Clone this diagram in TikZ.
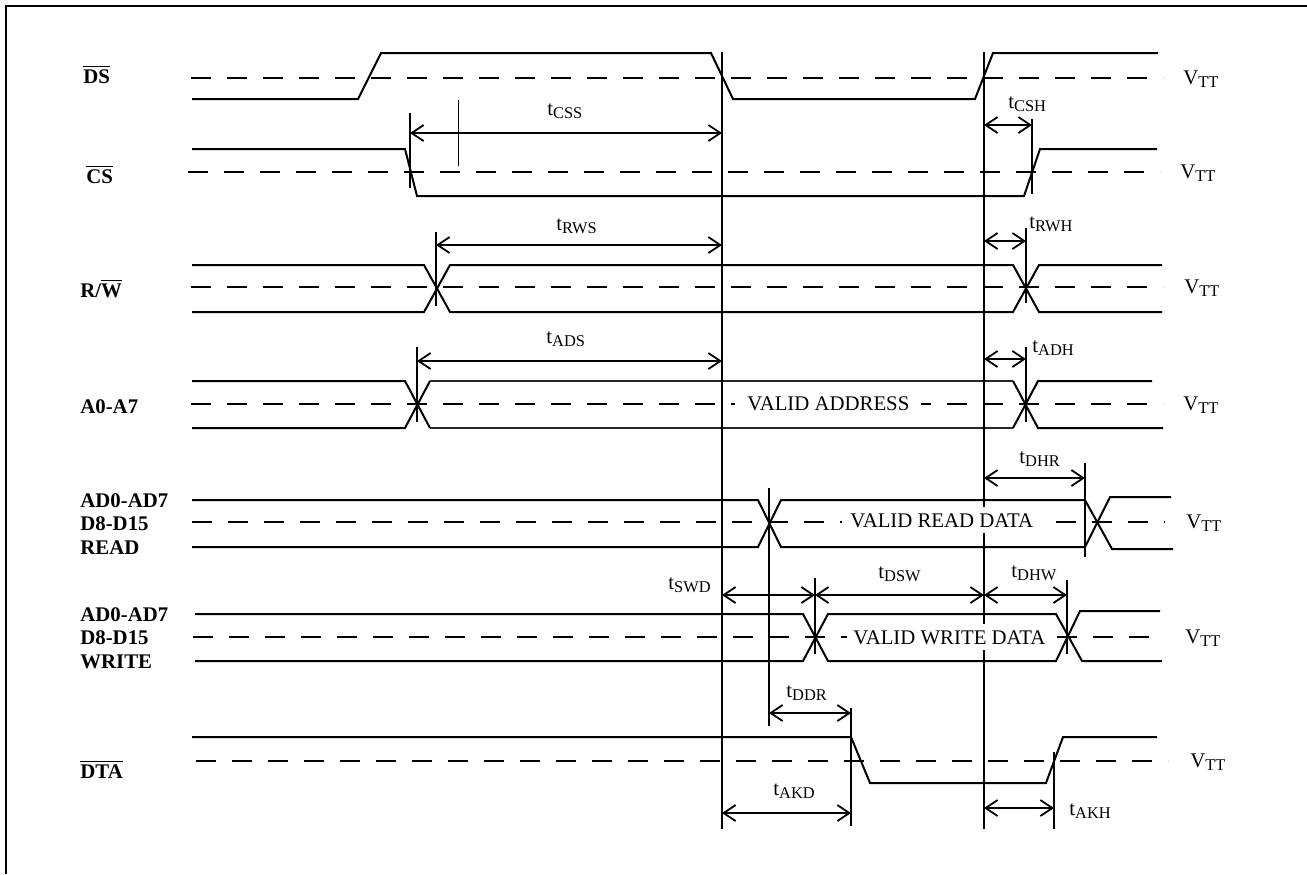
\documentclass[tikz,border=0pt]{standalone}
\usepackage{fontspec}
\setmainfont{Liberation Serif}
\usetikzlibrary{arrows.meta}
\newcommand\lbsub[2]{#1\raisebox{-0.4ex}{\fontsize{8.2}{9}\selectfont #2}}
\newcommand\ovl[1]{\ensuremath{\overline{\mbox{#1}}}}
\begin{document}
\begin{tikzpicture}[x=0.5pt,y=-0.5pt,
  wave/.style={line width=1pt},
  thinwave/.style={line width=0.55pt, black!85},
  midline/.style={line width=1pt, dash pattern=on 10pt off 8pt},
  refline/.style={line width=1pt},
  dimline/.style={line width=0.9pt, {Straight Barb[length=6pt,width=8pt]}-{Straight Barb[length=6pt,width=8pt]}},
  sig/.style={anchor=base west, inner sep=0pt, align=left, font=\fontsize{10.4}{11.75}\selectfont\bfseries},
  vtt/.style={anchor=base west, inner sep=0pt, font=\fontsize{10.4}{12}\selectfont},
  tl/.style={anchor=base west, inner sep=0pt, font=\fontsize{10.4}{12}\selectfont},
  valid/.style={anchor=base west, fill=white, inner ysep=3pt, font=\fontsize{10.4}{12}\selectfont}]
\useasboundingbox (0,0) rectangle (1307,874);

% frame
\draw[line width=1pt] (6,874) -- (6,6) -- (1307,6);

% signal labels
\node[sig] (lds) at (83,83) {\ovl{DS}};
\node[sig] (lcs) at (86,183) {\ovl{CS}};
\node[sig] (lrw) at (80,297) {R/\ovl{W}};
\node[sig] (la) at (80,413) {A0-A7};
\node[sig] (lrd) at (80,554) {AD0-AD7\\D8-D15\\READ};
\node[sig] (lwr) at (80,668) {AD0-AD7\\D8-D15\\WRITE};
\node[sig] (ldta) at (80,778) {\ovl{DTA}};

% dashed threshold lines
\draw[midline] (191,78) -- (1163,78);
\draw[midline] (188,172) -- (1160,172);
\draw[midline] (191,287) -- (1163,287);
\draw[midline] (191,404) -- (1163,404);
\draw[midline] (192,522) -- (1165,522);
\draw[midline] (193,637) -- (1163,637);
\draw[midline] (196,761) -- (1168,761);

% DS
\draw[wave] (192,99) -- (358,99) -- (381,53) -- (711,53) -- (733,99) -- (975,99) -- (993,53) -- (1158,53);
% CS
\draw[wave] (192,149) -- (405,149) -- (417,196) -- (1024,196) -- (1040,149) -- (1157,149);
% R/W
\draw[wave] (192,265) -- (424,265) -- (450,312) -- (1013,312) -- (1039,265) -- (1162,265);
\draw[wave] (192,312) -- (424,312) -- (450,265) -- (1013,265) -- (1039,312) -- (1162,312);
% A0-A7
\draw[wave] (192,381) -- (405,381) -- (430,428);
\draw[wave] (192,428) -- (405,428) -- (430,381);
\draw[thinwave] (430,381) -- (1013,381);
\draw[thinwave] (430,428) -- (1013,428);
\draw[wave] (1013,381) -- (1038,428) -- (1163,428);
\draw[wave] (1013,428) -- (1038,381) -- (1152,381);
% READ data
\draw[wave] (192,500) -- (758,500) -- (781,547) -- (1085,547) -- (1110,497) -- (1171,497);
\draw[wave] (192,547) -- (758,547) -- (781,500) -- (1085,500) -- (1112,549) -- (1173,549);
% WRITE data
\draw[wave] (195,614) -- (803,614) -- (828,661) -- (1056,661) -- (1080,611) -- (1160,611);
\draw[wave] (195,661) -- (803,661) -- (828,614) -- (1056,614) -- (1082,661) -- (1162,661);
% DTA
\draw[wave] (192,737) -- (851,737) -- (870,783) -- (1046,783) -- (1063,737) -- (1157,737);

% main reference lines
\draw[refline] (722,52) -- (722,829);
\draw[refline] (984,52) -- (984,829);

% edge markers
\draw[refline] (410,113) -- (410,188);
\draw[line width=0.5pt] (458,100) -- (458,166);
\draw[refline] (436,232) -- (436,306);
\draw[refline] (417,347) -- (417,422);
\draw[refline] (1032,119) -- (1032,194);
\draw[refline] (1026,228) -- (1026,303);
\draw[refline] (1026,347) -- (1026,422);
\draw[refline] (769,488) -- (769,726);
\draw[refline] (1085,463) -- (1085,557);
\draw[refline] (815,578) -- (815,654);
\draw[refline] (1067,580) -- (1067,654);
\draw[refline] (851,708) -- (851,826);
\draw[refline] (1054,752) -- (1054,829);

% timing dimensions
\draw[dimline] (410,133) -- (722,133);
\draw[dimline] (436,245) -- (722,245);
\draw[dimline] (417,361) -- (722,361);
\draw[dimline] (984,125) -- (1032,125);
\draw[dimline] (984,241) -- (1026,241);
\draw[dimline] (984,359) -- (1026,359);
\draw[dimline] (984,478) -- (1085,478);
\draw[dimline] (722,595) -- (815,595);
\draw[dimline] (815,595) -- (984,595);
\draw[dimline] (984,595) -- (1067,595);
\draw[dimline] (769,713) -- (851,713);
\draw[dimline] (722,813) -- (851,813);
\draw[dimline] (984,808) -- (1054,808);

% timing labels
\node[tl] (tcss) at (547,115) {\lbsub{t}{CSS}};
\node[tl] (trws) at (556,230) {\lbsub{t}{RWS}};
\node[tl] (tads) at (546,343) {\lbsub{t}{ADS}};
\node[tl] (tcsh) at (1008,108) {\lbsub{t}{CSH}};
\node[tl] (trwh) at (1029,228) {\lbsub{t}{RWH}};
\node[tl] (tadh) at (1032,352) {\lbsub{t}{ADH}};
\node[tl] (tdhr) at (1019,463) {\lbsub{t}{DHR}};
\node[tl] (tswd) at (668,589) {\lbsub{t}{SWD}};
\node[tl] (tdsw) at (878,578) {\lbsub{t}{DSW}};
\node[tl] (tdhw) at (1011,577) {\lbsub{t}{DHW}};
\node[tl] (tddr) at (786,697) {\lbsub{t}{DDR}};
\node[tl] (takd) at (773,795) {\lbsub{t}{AKD}};
\node[tl] (takh) at (1069,815) {\lbsub{t}{AKH}};

% valid data labels
\node[valid, inner xsep=6pt] (vaddr) at (735,410) {VALID ADDRESS};
\node[valid, inner xsep=4pt] (vread) at (842,527) {VALID READ DATA};
\node[valid, inner xsep=3pt] (vwrite) at (847,644) {VALID WRITE DATA};

% threshold labels
\node[vtt] (v1) at (1183,84) {\lbsub{V}{TT}};
\node[vtt] (v2) at (1180,178) {\lbsub{V}{TT}};
\node[vtt] (v3) at (1184,293) {\lbsub{V}{TT}};
\node[vtt] (v4) at (1183,410) {\lbsub{V}{TT}};
\node[vtt] (v5) at (1186,528) {\lbsub{V}{TT}};
\node[vtt] (v6) at (1185,643) {\lbsub{V}{TT}};
\node[vtt] (v7) at (1190,767) {\lbsub{V}{TT}};
\end{tikzpicture}
\end{document}
